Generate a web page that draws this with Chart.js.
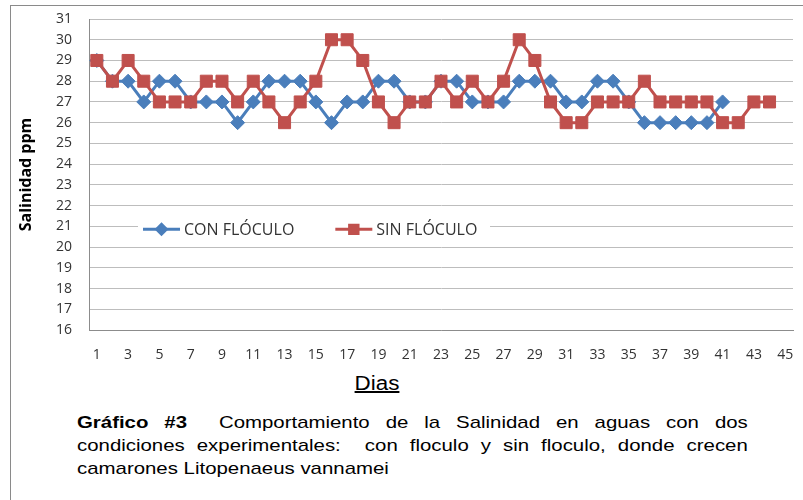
<!DOCTYPE html>
<html>
<head>
<meta charset="utf-8">
<script src="https://cdn.jsdelivr.net/npm/chart.js@4/dist/chart.umd.min.js"></script>
<style>
  html, body { margin: 0; padding: 0; background: #fff; }
  #wrap { position: relative; width: 803px; height: 500px; overflow: hidden; background: #fff; }
  #frame { position: absolute; left: 10px; top: 5px; width: 800px; height: 500px;
           border-left: 1px solid #8a8a8a; border-top: 1px solid #8a8a8a; }
  canvas { position: absolute; left: 0; top: 0; }
  #xtitle { position: absolute; left: 377px; top: 372px; transform: translateX(-50%) scaleX(1.12);
            font-family: "Liberation Sans", Arial, sans-serif; font-size: 20px; color: #000;
            text-decoration: underline; white-space: nowrap; }
  .cap { position: absolute; left: 77px; width: 559px; transform-origin: 0 0; transform: scaleX(1.2);
         font-family: "Liberation Sans", Arial, sans-serif; font-size: 17px; line-height: 23px;
         color: #000; white-space: nowrap; }
  .just { text-align: justify; text-align-last: justify; }
</style>
</head>
<body>
<div id="wrap">
  <div id="frame"></div>
  <canvas id="c" width="803" height="370"></canvas>
  <div id="xtitle">Dias</div>
  <div class="cap just" style="top:411px"><b>Gráfico #3</b>&nbsp; Comportamiento de la Salinidad en aguas con dos</div>
  <div class="cap just" style="top:434px">condiciones experimentales:&nbsp; con floculo y sin floculo, donde crecen</div>
  <div class="cap" style="top:457px">camarones Litopenaeus vannamei</div>
</div>
<script>
const dias = ['1','2','3','4','5','6','7','8','9','10','11','12','13','14','15','16','17','18','19','20',
  '21','22','23','24','25','26','27','28','29','30','31','32','33','34','35','36','37','38','39','40',
  '41','42','43','44','45'];
const conFloculo = [29,28,28,27,28,28,27,27,27,26, 27,28,28,28,27,26,27,27,28,28,
  27,27,28,28,27,27,27,28,28,28, 27,27,28,28,27,26,26,26,26,26, 27];
const sinFloculo = [29,28,29,28,27,27,27,28,28,27, 28,27,26,27,28,30,30,29,27,26,
  27,27,28,27,28,27,28,30,29,27, 26,26,27,27,27,28,27,27,27,27, 26,26,27,27];
const serieNames = ['CON FLÓCULO', 'SIN FLÓCULO'];
const yMin = 16, yMax = 31;

const BLUE = '#4A7EBB', RED = '#C0504D';
const tickFont = { family: "'Open Sans', sans-serif", size: 14 };

const legendInside = {
  id: 'legendInside',
  afterDraw(chart) {
    const ctx = chart.ctx;
    const y = chart.scales.y.getPixelForValue(21) + 3;
    ctx.save();
    ctx.fillStyle = '#fff';
    ctx.fillRect(138, y - 12, 352, 24);
    ctx.font = "16px 'Open Sans', sans-serif";
    ctx.textBaseline = 'middle';
    let x = 143;
    const order = [1, 0]; // dataset indices: blue then red
    order.forEach((di) => {
      const ds = chart.data.datasets[di];
      ctx.strokeStyle = ds.borderColor;
      ctx.lineWidth = 3;
      ctx.beginPath(); ctx.moveTo(x, y); ctx.lineTo(x + 37, y); ctx.stroke();
      ctx.fillStyle = ds.pointBackgroundColor;
      ctx.strokeStyle = ds.pointBorderColor;
      Chart.helpers.drawPoint(ctx, { pointStyle: ds.pointStyle, radius: ds.pointRadius * 0.7,
        borderWidth: 1, rotation: 0 }, x + 18.5, y);
      ctx.fillStyle = '#333';
      ctx.fillText(ds.label, x + 41, y + 1);
      x = x + 41 + ctx.measureText(ds.label).width + 41;
    });
    ctx.restore();
  }
};

new Chart(document.getElementById('c'), {
  type: 'line',
  data: {
    labels: dias,
    datasets: [
      { label: serieNames[1], data: sinFloculo, order: 0,
        borderColor: RED, borderWidth: 3, tension: 0,
        pointStyle: 'rect', pointRadius: 8.5, pointBackgroundColor: RED, pointBorderColor: RED,
        pointBorderWidth: 1 },
      { label: serieNames[0], data: conFloculo, order: 1,
        borderColor: BLUE, borderWidth: 3, tension: 0,
        pointStyle: 'rectRot', pointRadius: 7, pointBackgroundColor: BLUE, pointBorderColor: BLUE,
        pointBorderWidth: 1 }
    ]
  },
  options: {
    responsive: false,
    animation: false,
    layout: { padding: { top: 19, right: 10, left: 0, bottom: 0 } },
    plugins: { legend: { display: false }, tooltip: { enabled: false } },
    scales: {
      x: {
        type: 'category',
        offset: true,
        grid: { display: false, drawTicks: false },
        border: { display: true, color: '#8c8c8c', width: 1 },
        ticks: {
          autoSkip: false, maxRotation: 0, minRotation: 0, padding: 17,
          color: '#333', font: tickFont,
          callback: function (v, i) { return i % 2 === 0 ? dias[i] : ''; }
        },
        afterFit(scale) { scale.height = 40; scale.paddingLeft = 0; scale.paddingRight = 0; }
      },
      y: {
        min: yMin, max: yMax,
        grid: { color: '#bdbdbd', lineWidth: 1, drawTicks: false },
        border: { display: true, color: '#8c8c8c', width: 1 },
        ticks: { stepSize: 1, padding: 17, color: '#333', font: tickFont },
        title: { display: true, text: 'Salinidad ppm', color: '#000',
          font: { family: "'Open Sans', sans-serif", size: 16, weight: 'bold' },
          padding: { top: 17, bottom: 0 } },
        afterFit(scale) { scale.width = 89; scale.paddingTop = 0; scale.paddingBottom = 0; }
      }
    }
  },
  plugins: [legendInside]
});
</script>
</body>
</html>
